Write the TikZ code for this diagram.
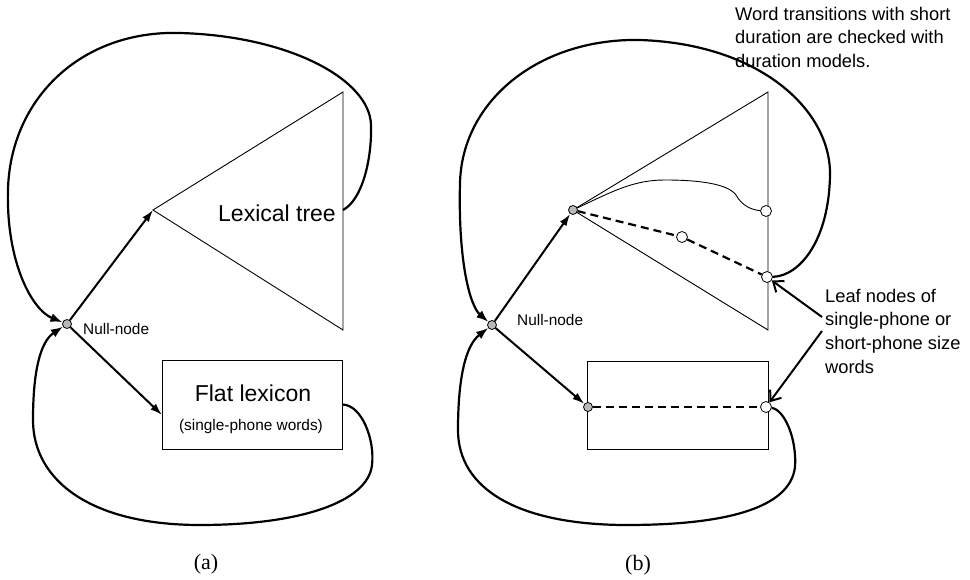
\documentclass[tikz,border=0pt]{standalone}
\usepackage{fontspec}
\setmainfont{Liberation Sans}
\newfontfamily\capfont{Liberation Serif}
\usetikzlibrary{arrows.meta}

\begin{document}
\begin{tikzpicture}[x=1pt, y=-1pt,
                        txt/.style={inner sep=0pt},
                        bigtxt/.style={txt, font=\fontsize{23}{28}\selectfont},
                        smalltxt/.style={txt, font=\fontsize{15.4}{18}\selectfont},
                        notetxt/.style={txt, align=left, font=\fontsize{18.3}{23.7}\selectfont},
                        captxt/.style={txt, font=\capfont\fontsize{22}{26}\selectfont},
                        nullnode/.style={circle, draw=black, line width=0.8pt, fill=gray!55, minimum size=9pt, inner sep=0pt},
                        leafnode/.style={circle, draw=black, line width=0.8pt, fill=white, minimum size=11pt, inner sep=0pt},
                        lexbox/.style={rectangle, draw=black, line width=0.9pt, inner sep=0pt},
                        thinline/.style={draw, line width=0.9pt},
                        loopline/.style={draw, line width=2.2pt, -{Latex[length=12pt,width=9pt]}},
                        backline/.style={draw, line width=2.2pt},
                        link/.style={draw, line width=2pt, -{Latex[length=12pt,width=8pt]}},
                        pointer/.style={draw, line width=2pt, -{Straight Barb[length=9pt,width=14pt]}},
                        dashline/.style={draw, line width=2.2pt, dash pattern=on 8pt off 5pt}]
                
                        \useasboundingbox (0,0) rectangle (970,580);

                        % ---------- (a) ----------
                        % Define nodes
                        \coordinate (apexA) at (153,210); % tree root
                        \coordinate (topA) at (343,92);
                        \coordinate (botA) at (343,330);
                        \coordinate (lexA) at (343,210); % exit of the tree
                        \coordinate (inA) at (162,415); % entry of the flat lexicon
                        \path[thinline] (apexA) -- (topA) -- (botA) -- cycle;
                        \node[lexbox, minimum width=180pt, minimum height=89pt] (boxA) at (252,404.5) {};
                        \node[nullnode] (nullA) at (67,324) {};

                        \node[bigtxt, anchor=east] (treeA) at (336,213) {Lexical tree};
                        \node[bigtxt] (flatA) at (253,393) {Flat lexicon};
                        \node[smalltxt] (flatnoteA) at (251,427) {(single-phone words)};
                        \node[smalltxt, anchor=west] (nulltxtA) at (83,329) {Null-node};
                        \node[captxt] (capA) at (206,564) {(a)};

                        % Define edges
                        \path[link] (nullA) -- (apexA);
                        \path[link] (nullA) -- (inA);
                        \path[loopline] (lexA) .. controls (362,200) and (372,160) .. (371,125)
                            .. controls (370,80) and (290,36) .. (180,33)
                            .. controls (80,30) and (10,100) .. (8,190)
                            .. controls (6,262) and (32,310) .. (nullA);
                        \path[loopline] (boxA.east) .. controls (362,405) and (375,440) .. (372,465)
                            .. controls (368,502) and (300,525) .. (200,525)
                            .. controls (90,525) and (33,480) .. (33,420)
                            .. controls (33,372) and (40,342) .. (nullA);

                        % ---------- (b) ----------
                        % Define nodes
                        \coordinate (topB) at (768,92);
                        \coordinate (botB) at (768,330);
                        \path[thinline] (573,210) -- (topB) -- (botB) -- cycle;
                        \node[lexbox, minimum width=181pt, minimum height=88pt] (boxB) at (677.5,405) {};
                        \node[nullnode] (nullB) at (492,325) {};
                        \node[nullnode] (apexB) at (573,210) {}; % tree root
                        \node[leafnode] (leafB) at (766,211) {}; % long word end
                        \node[leafnode] (midB) at (682,237) {};
                        \node[leafnode] (shortB) at (767,277) {}; % short word end
                        \node[nullnode] (flatinB) at (588,407) {};
                        \node[leafnode] (flatoutB) at (766,407) {};

                        \node[smalltxt, anchor=west] (nulltxtB) at (517,320) {Null-node};
                        \node[captxt] (capB) at (638,565) {(b)};
                        \node[notetxt, anchor=north west] (durnote) at (735,6.7)
                            {Word transitions with short\\duration are checked with\\duration models.};
                        \node[notetxt, anchor=north west] (leafnote) at (825,288.7)
                            {Leaf nodes of\\single-phone or\\short-phone size\\words};
                        \coordinate (ptrone) at (822,317);
                        \coordinate (ptrtwo) at (822,331);

                        % Define edges
                        \path[thinline] (apexB) .. controls (615,190) and (635,180) .. (665,180)
                            .. controls (700,180) and (728,184) .. (736,195)
                            .. controls (742,206) and (752,210) .. (leafB);
                        \path[dashline] (apexB) -- (midB) -- (shortB);
                        \path[dashline] (flatinB) -- (flatoutB);
                        \path[link] (nullB) -- (apexB);
                        \path[link] (nullB) -- (flatinB);
                        \path[loopline] (shortB) .. controls (800,276) and (829,240) .. (830,175)
                            .. controls (831,110) and (760,44) .. (640,40)
                            .. controls (540,38) and (462,100) .. (460,183)
                            .. controls (458,262) and (470,306) .. (nullB);
                        \path[loopline] (flatoutB) .. controls (785,410) and (797,440) .. (795,467)
                            .. controls (790,510) and (720,525) .. (627,525)
                            .. controls (520,525) and (458,490) .. (458,430)
                            .. controls (458,380) and (465,346) .. (nullB);
                        \path[pointer] (ptrone) -- (shortB);
                        \path[pointer] (ptrtwo) -- (flatoutB);
                        \end{tikzpicture}
\end{document}
